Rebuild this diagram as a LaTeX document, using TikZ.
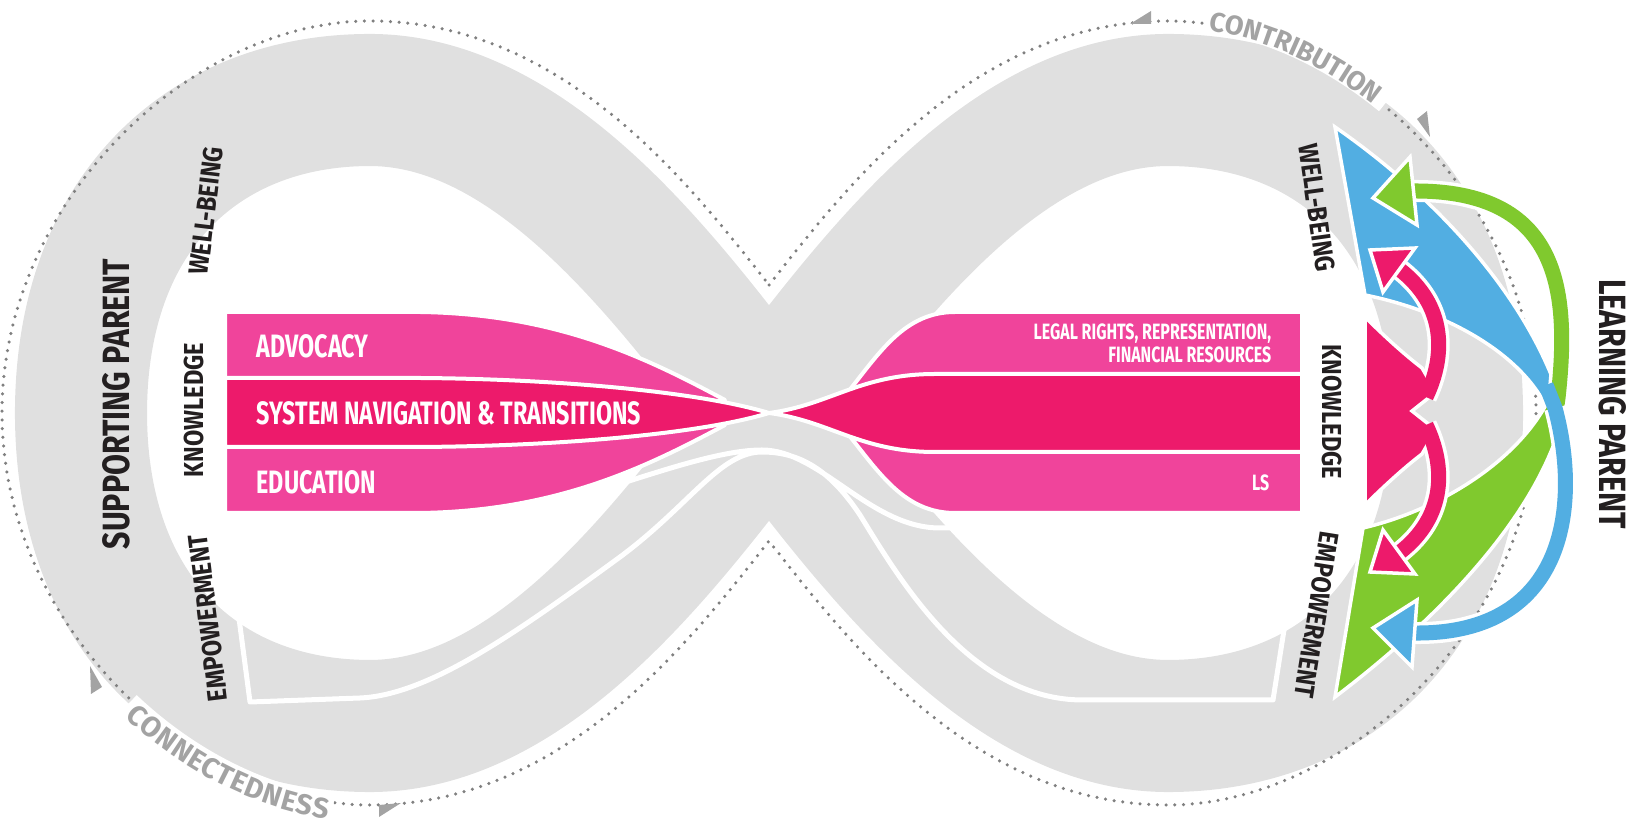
\documentclass[tikz,border=0pt]{standalone}
\usepackage{fontspec}
\usetikzlibrary{decorations.text}
\newfontfamily\condfont[FakeStretch=0.72]{Fira Sans}
\newfontfamily\ringfont[FakeStretch=0.86]{Fira Sans}
\newfontfamily\parentfont[FakeStretch=0.8]{Fira Sans}
\newfontfamily\arcfont{Fira Sans}
\definecolor{bandgray}{RGB}{224,224,224}
\definecolor{pinklight}{RGB}{240,68,155}
\definecolor{pinkdark}{RGB}{237,26,107}
\definecolor{blueflow}{RGB}{82,174,226}
\definecolor{greenflow}{RGB}{128,201,46}
\definecolor{dotgray}{RGB}{128,128,128}
\definecolor{arcgray}{RGB}{163,163,163}
\definecolor{inkdark}{RGB}{35,31,32}
\tikzset{
  strip/.style={draw=white, line width=0.04cm, line join=round},
  ghostline/.style={draw=white, line width=0.05cm, line join=round},
  dotline/.style={dotgray, line width=0.035cm, line cap=round, dash pattern=on 0pt off 0.087cm},
  wedge/.style={draw=white, line width=0.035cm, line join=miter},
  boxtext/.style={text=white, inner sep=0pt, font=\condfont\bfseries\fontsize{9.2}{11}\selectfont},
  smalltext/.style={text=white, inner sep=0pt, align=right, font=\condfont\bfseries\fontsize{6.3}{6.6}\selectfont},
  ringtext/.style={text=inkdark, inner sep=0pt, font=\ringfont\bfseries\fontsize{7.8}{9}\selectfont},
  parenttext/.style={text=inkdark, inner sep=0pt, font=\parentfont\bfseries\fontsize{10.8}{13}\selectfont}
}
\begin{document}
\begin{tikzpicture}[x=0.01cm, y=-0.01cm]
\useasboundingbox (0,0) rectangle (1633,822);
\coordinate (cross) at (769,413);

% infinity band
\draw[bandgray, line width=1.32cm, line join=round]
  (cross) .. controls (861,295) and (998,100) .. (1168,100)
  .. controls (1335,100) and (1457,213) .. (1457,413)
  .. controls (1457,613) and (1335,726) .. (1168,726)
  .. controls (998,726) and (861,531) .. (cross)
  .. controls (677,295) and (540,100) .. (370,100)
  .. controls (203,100) and (81,213) .. (81,413)
  .. controls (81,613) and (203,726) .. (370,726)
  .. controls (540,726) and (677,531) .. cycle;

% dotted contour
\draw[dotline] (769,285) .. controls (849,183) and (975,21) .. (1168,21)
  .. controls (1345,21) and (1536,200) .. (1536,413)
  .. controls (1536,626) and (1345,805) .. (1168,805)
  .. controls (975,805) and (849,643) .. (769,541)
  .. controls (689,643) and (563,805) .. (370,805)
  .. controls (193,805) and (2,626) .. (2,413)
  .. controls (2,200) and (193,21) .. (370,21)
  .. controls (563,21) and (689,183) .. (769,285);
\draw[white, line width=0.15cm, dash pattern=on 0pt off 0.36cm on 2.0cm off 20cm]
  (1168,21) .. controls (1345,21) and (1536,200) .. (1536,413);
\draw[white, line width=0.15cm, dash pattern=on 0pt off 3.24cm on 2.3cm off 20cm]
  (2,413) .. controls (2,626) and (193,805) .. (370,805);
\path[decorate, decoration={text along path, text color=arcgray, raise=-0.06cm,
  text align={left, left indent=0.42cm},
  text={|\arcfont\bfseries\fontsize{7.7}{9}\selectfont|CONTRIBUTION}}]
  (1168,21) .. controls (1345,21) and (1536,200) .. (1536,413);
\path[decorate, decoration={text along path, text color=arcgray, raise=-0.17cm,
  text align={left, left indent=3.3cm},
  text={|\arcfont\bfseries\fontsize{8.1}{9}\selectfont|CONNECTEDNESS}}]
  (2,413) .. controls (2,626) and (193,805) .. (370,805);
\fill[arcgray] (1130,24) -- (1151,24) -- (1151,11) -- cycle;
\fill[arcgray] (1430,137) -- (1417,119) -- (1427,111) -- cycle;
\fill[arcgray] (90,666) -- (102,687) -- (91,694) -- cycle;
\fill[arcgray] (401,803) -- (379,805) -- (379,817) -- cycle;

% ghost ribbon
\draw[ghostline] (227,527) -- (460,522) .. controls (560,515) and (690,450) .. (762,450)
  .. controls (820,450) and (870,528) .. (940,528) -- (1300,528) -- (1273,700) -- (1083,700)
  .. controls (970,700) and (900,580) .. (860,515) .. controls (830,470) and (800,452) .. (762,452)
  .. controls (720,452) and (690,505) .. (620,557) .. controls (520,630) and (430,695) .. (360,698)
  -- (250,702) -- cycle;

% pink ribbon
\filldraw[fill=pinklight, strip] (225,312) -- (420,312) .. controls (560,314) and (650,360) .. (725,400)
  -- (600,420) -- (225,420) -- cycle;
\filldraw[fill=pinklight, strip] (225,513) -- (420,513) .. controls (560,511) and (650,465) .. (725,425)
  -- (600,405) -- (225,405) -- cycle;
\filldraw[fill=pinklight, strip] (848,392) .. controls (880,352) and (905,312) .. (955,312)
  -- (1302,312) -- (1302,400) -- (880,400) -- cycle;
\filldraw[fill=pinklight, strip] (848,434) .. controls (880,474) and (905,513) .. (955,513)
  -- (1302,513) -- (1302,430) -- (880,430) -- cycle;
\filldraw[fill=pinkdark, strip] (225,378) -- (420,378) .. controls (560,379) and (700,392) .. (cross)
  .. controls (830,405) and (860,374) .. (935,374) -- (1302,374) -- (1302,452) -- (935,452)
  .. controls (860,452) and (830,421) .. (cross)
  .. controls (700,434) and (560,446) .. (420,447) -- (225,447) -- cycle;

\node[boxtext, anchor=west] (advocacy) at (256,346) {ADVOCACY};
\node[boxtext, anchor=west] (sysnav) at (256,413) {SYSTEM NAVIGATION \& TRANSITIONS};
\node[boxtext, anchor=west] (education) at (256,482) {EDUCATION};
\node[smalltext, anchor=east] (legal) at (1272,343) {LEGAL RIGHTS, REPRESENTATION,\\FINANCIAL RESOURCES};
\node[smalltext, anchor=east] (ls) at (1270,483) {LS};

% blue and green flows
\filldraw[fill=blueflow, wedge] (1335,127) -- (1365,295) .. controls (1440,310) and (1520,350) .. (1548,410)
  -- (1562,405) .. controls (1530,300) and (1440,200) .. (1335,127) -- cycle;
\draw[white, line width=0.22cm] (1558,398) .. controls (1570,290) and (1560,190) .. (1413,191);
\filldraw[fill=greenflow, wedge] (1335,697) -- (1363,528) .. controls (1440,510) and (1520,460) .. (1550,397)
  -- (1566,400) .. controls (1550,500) and (1450,610) .. (1335,697) -- cycle;
\draw[greenflow, line width=0.15cm] (1554,425) -- (1558,398) .. controls (1570,290) and (1560,190) .. (1413,191);
\filldraw[fill=greenflow, wedge] (1373,198) -- (1410,157) -- (1417,225) -- cycle;
\draw[white, line width=0.22cm] (1555,408) .. controls (1580,500) and (1570,635) .. (1414,633);
\draw[blueflow, line width=0.15cm] (1546,385) -- (1555,408) .. controls (1580,500) and (1570,635) .. (1414,633);
\filldraw[fill=blueflow, wedge] (1373,628) -- (1417,600) -- (1412,667) -- cycle;

% pink double arrow
\draw[white, line width=0.22cm] (1426,397) .. controls (1446,355) and (1446,305) .. (1399,269);
\draw[white, line width=0.22cm] (1426,425) .. controls (1446,467) and (1446,517) .. (1399,553);
\filldraw[fill=pinkdark, wedge] (1365,317) .. controls (1385,337) and (1405,355) .. (1422,368)
  -- (1436,392) -- (1412,411) -- (1436,430) -- (1422,454)
  .. controls (1405,467) and (1385,485) .. (1365,505) -- cycle;
\draw[pinkdark, line width=0.15cm] (1426,397) .. controls (1446,355) and (1446,305) .. (1399,269);
\draw[pinkdark, line width=0.15cm] (1426,425) .. controls (1446,467) and (1446,517) .. (1399,553);
\filldraw[fill=pinkdark, wedge] (1370,250) -- (1415,248) -- (1383,292) -- cycle;
\filldraw[fill=pinkdark, wedge] (1370,572) -- (1415,574) -- (1383,530) -- cycle;

% ring labels
\node[ringtext, rotate=83] (wellL) at (206,211) {WELL-BEING};
\node[ringtext, rotate=90] (knowL) at (194,410) {KNOWLEDGE};
\node[ringtext, rotate=97] (empL) at (208,618) {EMPOWERMENT};
\node[ringtext, rotate=-82] (wellR) at (1317,208) {WELL-BEING};
\node[ringtext, rotate=-90] (knowR) at (1332,412) {KNOWLEDGE};
\node[ringtext, rotate=-99] (empR) at (1317,615) {EMPOWERMENT};
\node[parenttext, rotate=90] (suppParent) at (116,404) {SUPPORTING PARENT};
\node[parenttext, rotate=-90] (learnParent) at (1613,404) {LEARNING PARENT};
\end{tikzpicture}
\end{document}
